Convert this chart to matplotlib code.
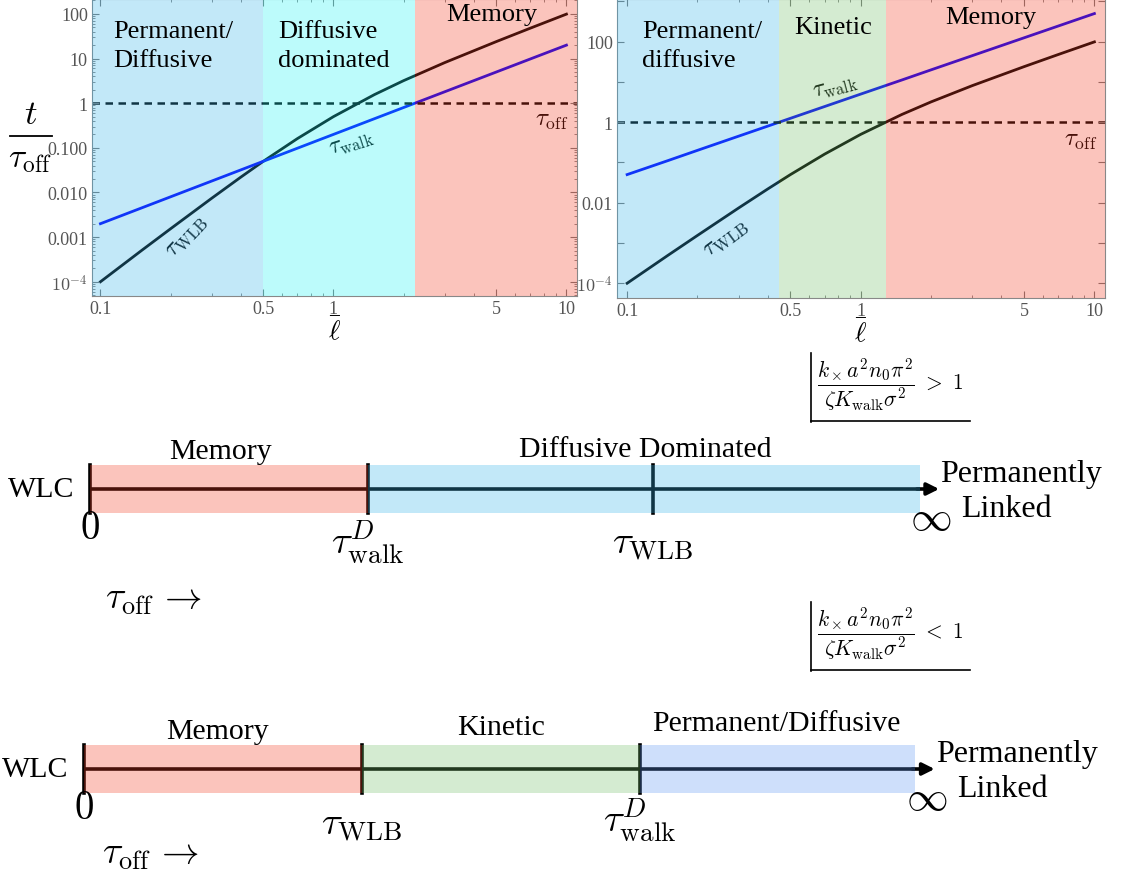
import matplotlib
matplotlib.use("Agg")
import matplotlib.pyplot as plt
from matplotlib.lines import Line2D
from matplotlib.ticker import FixedLocator, NullFormatter, LogLocator

plt.rcParams['font.family'] = ['Liberation Serif', 'DejaVu Serif']
plt.rcParams['mathtext.fontset'] = 'cm'

# values
ell = [0.1, 0.15, 0.2, 0.3, 0.4, 0.5, 0.7, 1.0, 1.5, 2.0, 3.0, 5.0, 7.0, 10.0]
tau_wlb = [1.0e-4, 5.0e-4, 1.54e-3, 7.4e-3, 0.022, 0.05, 0.161, 0.5, 1.56, 3.2, 8.1, 24.0, 48.0, 99.0]
tau_walk_left = [0.002, 0.0045, 0.008, 0.018, 0.032, 0.05, 0.098, 0.2, 0.45, 0.8, 1.8, 5.0, 9.8, 20.0]
tau_walk_right = [0.05, 0.112, 0.2, 0.45, 0.8, 1.25, 2.45, 5.0, 11.2, 20.0, 45.0, 125.0, 245.0, 500.0]
tau_off = 1.0

left_edges = [0.092, 0.5, 2.24, 11.1]
left_regions = ["Permanent/\nDiffusive", "Diffusive\ndominated", "Memory"]
right_edges = [0.0905, 0.446, 1.28, 11.1]
right_regions = ["Permanent/\ndiffusive", "Kinetic", "Memory"]

# timelines (in units of one segment)
t1_ticks = [0, 1, 2.03]
t1_ticklabels = ["$0$", r"$\tau^D_{\rm walk}$", r"$\tau_{\rm WLB}$"]
t1_edges = [0, 1, 2.99]
t1_regions = ["Memory", "Diffusive Dominated"]
t2_ticks = [0, 1, 2]
t2_ticklabels = ["$0$", r"$\tau_{\rm WLB}$", r"$\tau^D_{\rm walk}$"]
t2_edges = [0, 1, 2, 2.99]
t2_regions = ["Memory", "Kinetic", "Permanent/Diffusive"]

# overlay colours (alpha 0.3 over white)
A = 0.3
RED = (0.96, 0.24, 0.14)
BLUE = (0.22, 0.70, 0.91)
CYAN = (0.14, 0.96, 0.96)
GREEN = (0.45, 0.75, 0.41)
LAV = (0.37, 0.59, 0.95)

W, H = 1125, 878
fig = plt.figure(figsize=(W / 100, H / 100), dpi=100)


def px_box(x0, y0, x1, y1):
    return [x0 / W, 1 - y1 / H, (x1 - x0) / W, (y1 - y0) / H]


def style_log_axes(ax, ylim, yticks, ylabels, minor):
    ax.set_xscale('log')
    ax.set_yscale('log')
    ax.set_ylim(*ylim)
    ax.set_xticks([0.1, 0.5, 1, 5, 10])
    ax.set_xticklabels(["0.1", "0.5", "1", "5", "10"])
    ax.xaxis.set_minor_locator(FixedLocator([0.2, 0.3, 0.4, 0.6, 0.7, 0.8, 0.9, 2, 3, 4, 6, 7, 8, 9]))
    ax.xaxis.set_minor_formatter(NullFormatter())
    ax.yaxis.set_major_locator(FixedLocator(yticks))
    ax.set_yticklabels(ylabels)
    if minor:
        ax.yaxis.set_minor_locator(LogLocator(base=10, subs=range(2, 10), numticks=20))
    else:
        ax.yaxis.set_minor_locator(FixedLocator([]))
    ax.yaxis.set_minor_formatter(NullFormatter())
    ax.tick_params(which='both', direction='in', top=True, right=True, colors='#777777',
                   labelcolor='#555555', labelsize=13, pad=3)
    ax.tick_params(which='major', length=5)
    ax.tick_params(which='minor', length=2.5)
    for s in ax.spines.values():
        s.set_color('#888888')
    ax.set_xlabel(r"$\bar{\ell}$", fontsize=20, labelpad=0)


# ---- left panel ----
ax1 = fig.add_axes(px_box(92, 0, 577, 297))
ax1.set_xlim(left_edges[0], left_edges[-1])
ax1.plot(ell, tau_wlb, color='black', lw=2, zorder=1)
ax1.plot(ell, tau_walk_left, color='blue', lw=2, zorder=1)
ax1.axhline(tau_off, color='black', lw=1.8, ls=(0, (3, 2.2)), zorder=1)
for (a, b), c in zip(zip(left_edges[:-1], left_edges[1:]), [BLUE, CYAN, RED]):
    ax1.axvspan(a, b, color=c, alpha=A, lw=0, zorder=3)
ax1.text(0.235, 0.0011, r"$\tau_{\rm WLB}$", rotation=47, fontsize=17, ha='center', va='center', zorder=2)
ax1.text(1.2, 0.13, r"$\tau_{\rm walk}$", rotation=18, fontsize=17, ha='center', va='center', zorder=2)
ax1.text(8.6, 0.42, r"$\tau_{\rm off}$", fontsize=18, ha='center', va='center', zorder=2)
ax1.text(0.113, 20, left_regions[0], fontsize=19, ha='left', va='center', linespacing=1.4, zorder=4)
ax1.text(0.58, 20, left_regions[1], fontsize=19, ha='left', va='center', linespacing=1.4, zorder=4)
ax1.text(4.8, 100, left_regions[2], fontsize=19, ha='center', va='center', zorder=4)
style_log_axes(ax1, (4.8e-5, 216), [1e-4, 1e-3, 1e-2, 1e-1, 1, 10, 100],
               [r"$10^{-4}$", "0.001", "0.010", "0.100", "1", "10", "100"], True)

# ---- right panel ----
ax2 = fig.add_axes(px_box(617, 0, 1105, 299))
ax2.set_xlim(right_edges[0], right_edges[-1])
ax2.plot(ell, tau_wlb, color='black', lw=2, zorder=1)
ax2.plot(ell, tau_walk_right, color='blue', lw=2, zorder=1)
ax2.axhline(tau_off, color='black', lw=1.8, ls=(0, (3, 2.2)), zorder=1)
for (a, b), c in zip(zip(right_edges[:-1], right_edges[1:]), [BLUE, GREEN, RED]):
    ax2.axvspan(a, b, color=c, alpha=A, lw=0, zorder=3)
ax2.text(0.265, 0.0014, r"$\tau_{\rm WLB}$", rotation=37, fontsize=17, ha='center', va='center', zorder=2)
ax2.text(0.78, 7.5, r"$\tau_{\rm walk}$", rotation=15, fontsize=17, ha='center', va='center', zorder=2)
ax2.text(8.7, 0.36, r"$\tau_{\rm off}$", fontsize=18, ha='center', va='center', zorder=2)
ax2.text(0.116, 82, right_regions[0], fontsize=19, ha='left', va='center', linespacing=1.4, zorder=4)
ax2.text(0.76, 230, right_regions[1], fontsize=19, ha='center', va='center', zorder=4)
ax2.text(3.6, 400, right_regions[2], fontsize=19, ha='center', va='center', zorder=4)
style_log_axes(ax2, (4.3e-5, 1150), [1e-4, 1e-3, 1e-2, 1e-1, 1, 10, 100, 1000],
               [r"$10^{-4}$", "", "0.01", "", "1", "", "100", ""], False)

# y label as a fraction
fig.text(31 / W, 1 - 116 / H, "$t$", fontsize=25, ha='center', va='center')
fig.add_artist(Line2D([10 / W, 52 / W], [1 - 137 / H, 1 - 137 / H], color='black', lw=1.3))
fig.text(30 / W, 1 - 160 / H, r"$\tau_{\rm off}$", fontsize=24, ha='center', va='center')

# condition boxes
for ytop, sign in [(354, ">"), (603, "<")]:
    fig.text(817 / W, 1 - (ytop + 31) / H,
             r"$\dfrac{k_\times a^2 n_0 \pi^2}{\zeta K_{\rm walk}\sigma^2}\ %s\ 1$" % sign,
             fontsize=15.5, ha='left', va='center')
    fig.add_artist(Line2D([811 / W, 811 / W], [1 - ytop / H, 1 - (ytop + 69) / H], color='black', lw=1.2))
    fig.add_artist(Line2D([811 / W, 970 / W], [1 - (ytop + 68) / H, 1 - (ytop + 68) / H], color='black', lw=1.2))


def timeline(box, xlim, ylim, ticks, ticklabels, edges, regions, colors, label_pos, lab_y, tick_y, toff_x, toff_y):
    ax = fig.add_axes(box)
    ax.set_xlim(*xlim)
    ax.set_ylim(*ylim)
    ax.axis('off')
    ax.plot([ticks[0], edges[-1]], [0, 0], color='black', lw=2.6, solid_capstyle='butt', zorder=1)
    ax.annotate("", xy=(3.06, 0), xytext=(edges[-1] - 0.01, 0),
                arrowprops=dict(arrowstyle='-|>', color='black', lw=2.6, mutation_scale=18,
                                shrinkA=0, shrinkB=0), zorder=1)
    for t in ticks:
        ax.plot([t, t], [-24, 24], color='black', lw=2.6, zorder=1)
    for (a, b), c in zip(zip(edges[:-1], edges[1:]), colors):
        ax.axvspan(a, b, ymin=(-24 - ylim[0]) / (ylim[1] - ylim[0]),
                   ymax=(24 - ylim[0]) / (ylim[1] - ylim[0]), color=c, alpha=A, lw=0, zorder=3)
    for name, x, dy in zip(regions, label_pos, lab_y):
        ax.text(x, dy, name, fontsize=21.5, ha='center', va='center')
    for t, lab, dy in zip(ticks, ticklabels, tick_y):
        ax.text(t, dy, lab, fontsize=28, ha='center', va='center')
    ax.text(-0.055, 0, "WLC", fontsize=21.5, ha='right', va='center')
    ax.text(3.065, 15, "Permanently", fontsize=23, ha='left', va='center')
    ax.text(3.14, -20, "Linked", fontsize=23, ha='left', va='center')
    ax.text(3.03, -30, r"$\infty$", fontsize=30, ha='center', va='center')
    ax.text(toff_x, toff_y, r"$\tau_{\rm off}\,\rightarrow$", fontsize=27, ha='center', va='center')
    return ax


timeline(px_box(0, 425, W, 625), (-90 / 277.5, (W - 90) / 277.5), (-135, 65),
         t1_ticks, t1_ticklabels, t1_edges, t1_regions, [RED, BLUE],
         [0.47, 2.0], [38, 40], [-40, -52, -55], 0.23, -110)
timeline(px_box(0, 700, W, 878), (-84 / 278, (W - 84) / 278), (-108, 70),
         t2_ticks, t2_ticklabels, t2_edges, t2_regions, [RED, GREEN, LAV],
         [0.48, 1.5, 2.49], [38, 42, 46], [-40, -55, -50], 0.24, -85)

fig.savefig("out.png", dpi=100)
